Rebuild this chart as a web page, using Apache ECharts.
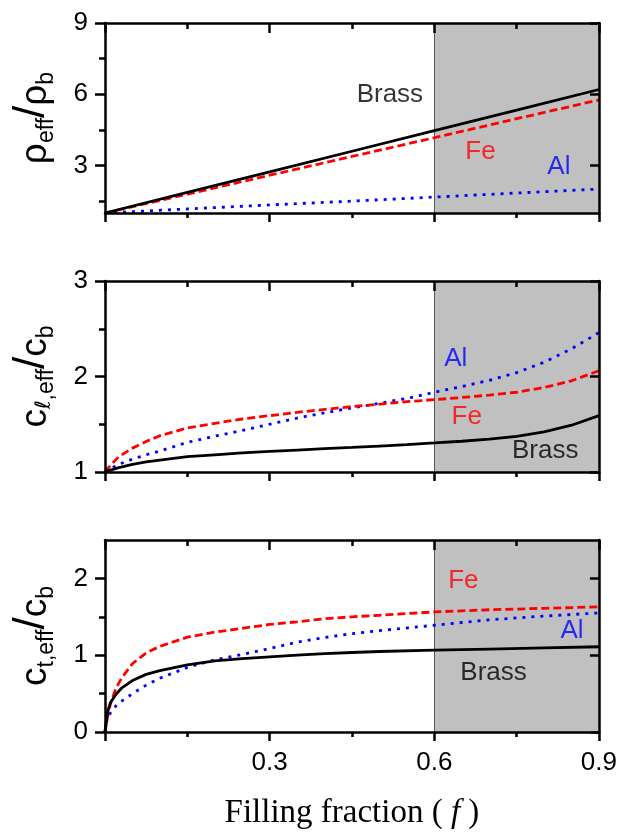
<!DOCTYPE html>
<html><head><meta charset="utf-8">
<script src="https://cdn.jsdelivr.net/npm/echarts@6/dist/echarts.min.js"></script>
<style>html,body{margin:0;padding:0;background:#fff}#c{width:620px;height:833px}</style>
</head><body><div id="c"></div>
<script>
// ---------- data ----------
const materials = ['Brass', 'Fe', 'Al'];

// panel 1: rho_eff / rho_b
const fRho = [0, 0.15, 0.3, 0.45, 0.6, 0.75, 0.9];
const rhoBrass = [1, 1.87, 2.73, 3.60, 4.47, 5.33, 6.20];
const rhoFe    = [1, 1.79, 2.59, 3.38, 4.17, 4.97, 5.76];
const rhoAl    = [1, 1.17, 1.34, 1.50, 1.67, 1.84, 2.01];

// panel 2: c_l,eff / c_b
const fCl = [0, 0.01, 0.025, 0.05, 0.075, 0.1, 0.15, 0.2, 0.25, 0.3, 0.35, 0.4, 0.45, 0.5, 0.55, 0.6, 0.65, 0.7, 0.75, 0.8, 0.85, 0.9];
const clBrass = [1.00, 1.02, 1.045, 1.08, 1.105, 1.125, 1.16, 1.18, 1.20, 1.215, 1.23, 1.245, 1.257, 1.272, 1.287, 1.304, 1.322, 1.345, 1.373, 1.42, 1.49, 1.59];
const clFe    = [1.00, 1.07, 1.16, 1.25, 1.32, 1.38, 1.46, 1.51, 1.555, 1.59, 1.625, 1.655, 1.685, 1.71, 1.737, 1.757, 1.78, 1.805, 1.835, 1.885, 1.955, 2.06];
const clAl    = [1.00, 1.035, 1.08, 1.135, 1.18, 1.22, 1.31, 1.375, 1.435, 1.50, 1.565, 1.62, 1.67, 1.72, 1.77, 1.835, 1.895, 1.96, 2.04, 2.15, 2.29, 2.46];

// panel 3: c_t,eff / c_b
const fCt = [0, 0.002, 0.005, 0.01, 0.02, 0.03, 0.05, 0.075, 0.1, 0.15, 0.2, 0.25, 0.3, 0.35, 0.4, 0.45, 0.5, 0.6, 0.7, 0.8, 0.9];
const ctBrass = [0, 0.13, 0.27, 0.385, 0.49, 0.57, 0.67, 0.75, 0.80, 0.875, 0.925, 0.955, 0.978, 1.00, 1.02, 1.035, 1.048, 1.065, 1.08, 1.095, 1.11];
const ctFe    = [0, 0.08, 0.21, 0.37, 0.57, 0.70, 0.89, 1.03, 1.115, 1.235, 1.30, 1.35, 1.40, 1.435, 1.475, 1.50, 1.52, 1.563, 1.592, 1.61, 1.63];
const ctAl    = [0, 0.10, 0.19, 0.25, 0.34, 0.40, 0.50, 0.61, 0.70, 0.84, 0.94, 1.01, 1.087, 1.17, 1.23, 1.28, 1.32, 1.39, 1.46, 1.51, 1.55];

// axes
const xMin = 0, xMax = 0.9, xInterval = 0.3;
const xTickLabels = [0.3, 0.6, 0.9];
const shadeFrom = 0.6, shadeTo = 0.9;
const yRanges = [[1, 9], [1, 3], [0, 2.5]];
const yMajor = [[3, 6, 9], [1, 2, 3], [0, 1, 2]];
const yMinor = [[1.5, 4.5, 7.5], [1.5, 2.5], [0.5, 1.5]];

// text annotations: [panel, material, f, value]
const notes = [
  [0, 'Brass', 0.519, 5.97], [0, 'Fe', 0.684, 3.57], [0, 'Al', 0.827, 2.94],
  [1, 'Al', 0.639, 2.18], [1, 'Fe', 0.659, 1.576], [1, 'Brass', 0.802, 1.22],
  [2, 'Fe', 0.653, 1.97], [2, 'Al', 0.851, 1.32], [2, 'Brass', 0.708, 0.77]
];

// ---------- styling / building ----------
const SANS = 'Liberation Sans';
const colors = { Brass: '#000000', Fe: '#ff0000', Al: '#0000ff' };
const lineTypes = { Brass: 'solid', Fe: [8, 4], Al: [3, 6] };
const panelData = [
  [fRho, { Brass: rhoBrass, Fe: rhoFe, Al: rhoAl }],
  [fCl, { Brass: clBrass, Fe: clFe, Al: clAl }],
  [fCt, { Brass: ctBrass, Fe: ctFe, Al: ctAl }]
];
const grids = [
  { left: 105, right: 21, top: 23, height: 190 },
  { left: 105, right: 21, top: 281, height: 191 },
  { left: 105, right: 21, top: 540, height: 192 }
];
const richName = {
  m:  { fontFamily: SANS, fontSize: 37, padding: [10, 0, 0, 0], verticalAlign: 'top', color: '#000' },
  s:  { fontFamily: SANS, fontSize: 23, padding: [28, 0, 0, 0], verticalAlign: 'top', color: '#000' },
  si: { fontFamily: 'DejaVu Sans', fontStyle: 'italic', fontSize: 21, padding: [27, 0, 0, 0], verticalAlign: 'top', color: '#000' },
  sl: { fontFamily: SANS, fontSize: 44, padding: [3, 0, 0, 0], verticalAlign: 'top', color: '#000' }
};
const yNames = [
  '{m|\u03c1}{s|eff}{sl|/}{m|\u03c1}{s|b}',
  '{m|c}{si|\u2113}{s|,eff}{sl|/}{m|c}{s|b}',
  '{m|c}{s|t,eff}{sl|/}{m|c}{s|b}'
];

const xAxes = [], yAxes = [], series = [];
const axisLine = { show: true, onZero: false, lineStyle: { color: '#000', width: 2.5 } };
for (let g = 0; g < 3; g++) {
  const last = g === 2;
  xAxes.push({
    gridIndex: g, type: 'value', position: 'bottom', min: xMin, max: xMax, interval: xInterval, z: 10,
    axisLine, splitLine: { show: false },
    axisTick: { show: true, length: 9, lineStyle: { width: 2.5, color: '#000' } },
    minorTick: { show: true, splitNumber: 2, length: 5, lineStyle: { width: 2.5, color: '#000' } },
    axisLabel: { show: last, customValues: xTickLabels, margin: 18, fontFamily: SANS, fontSize: 26, color: '#000',
      formatter: v => v.toFixed(1) },
    name: last ? '{n|Filling fraction (}{i| f }{n|)}' : '', nameLocation: 'middle', nameGap: 65,
    nameTextStyle: { rich: {
      n: { fontFamily: 'Liberation Serif', fontSize: 33, color: '#000' },
      i: { fontFamily: 'Liberation Serif', fontStyle: 'italic', fontSize: 33, color: '#000' } } }
  });
  xAxes.push({
    gridIndex: g, type: 'value', position: 'top', min: xMin, max: xMax, interval: xInterval, z: 10,
    axisLine, splitLine: { show: false }, axisLabel: { show: false },
    axisTick: { show: true, inside: true, length: 10, lineStyle: { width: 2.5, color: '#000' } },
    minorTick: { show: true, splitNumber: 2, length: 6, lineStyle: { width: 2.5, color: '#000' } }
  });
  const [ymin, ymax] = yRanges[g];
  const base = { gridIndex: g, type: 'value', min: ymin, max: ymax, z: 10, splitLine: { show: false } };
  yAxes.push(Object.assign({}, base, {
    position: 'left', axisLine,
    axisTick: { show: true, customValues: yMajor[g], length: 10, lineStyle: { width: 2.5, color: '#000' } },
    axisLabel: { show: true, customValues: yMajor[g], margin: 17, fontFamily: SANS, fontSize: 26, color: '#000' },
    name: yNames[g], nameLocation: 'middle', nameRotate: 90, nameGap: 47,
    nameTextStyle: { rich: richName }
  }));
  yAxes.push(Object.assign({}, base, {
    position: 'left', axisLine: { show: false }, axisLabel: { show: false },
    axisTick: { show: true, customValues: yMinor[g], length: 6, lineStyle: { width: 2.5, color: '#000' } }
  }));
  yAxes.push(Object.assign({}, base, {
    position: 'right', axisLine, axisLabel: { show: false },
    axisTick: { show: true, inside: true, customValues: yMajor[g], length: 9, lineStyle: { width: 2.5, color: '#000' } }
  }));
  yAxes.push(Object.assign({}, base, {
    position: 'right', axisLine: { show: false }, axisLabel: { show: false },
    axisTick: { show: true, inside: true, customValues: yMinor[g], length: 6, lineStyle: { width: 2.5, color: '#000' } }
  }));

  // shaded region + divider
  series.push({
    type: 'line', xAxisIndex: 2 * g, yAxisIndex: 4 * g, data: [], z: 1, silent: true,
    markArea: { silent: true, z: 1, itemStyle: { color: '#c0c0c0', borderWidth: 0 },
      data: [[{ xAxis: shadeFrom }, { xAxis: shadeTo }]] },
    markLine: { silent: true, symbol: 'none', z: 1, label: { show: false },
      lineStyle: { color: '#555', width: 1, type: 'solid' }, data: [{ xAxis: shadeFrom }] }
  });

  const [fs, vals] = panelData[g];
  ['Al', 'Fe', 'Brass'].forEach(mat => {
    series.push({
      type: 'line', name: mat, xAxisIndex: 2 * g, yAxisIndex: 4 * g, z: 3,
      data: fs.map((f, i) => [f, vals[mat][i]]),
      showSymbol: false, symbol: 'none', smooth: false,
      lineStyle: { color: colors[mat], width: 2.8, type: lineTypes[mat] }
    });
  });

  series.push({
    type: 'scatter', xAxisIndex: 2 * g, yAxisIndex: 4 * g, z: 5, symbolSize: 1, silent: true,
    itemStyle: { color: 'rgba(0,0,0,0)' },
    data: notes.filter(n => n[0] === g).map(n => ({
      value: [n[2], n[3]],
      label: { show: true, position: 'inside', formatter: n[1], color: colors[n[1]],
        textBorderWidth: 0, fontFamily: SANS, fontSize: 26 }
    }))
  });
}

const chart = echarts.init(document.getElementById('c'), null, { renderer: 'canvas' });
chart.setOption({
  animation: false,
  backgroundColor: '#fff',
  grid: grids,
  xAxis: xAxes,
  yAxis: yAxes,
  series
});
</script></body></html>
